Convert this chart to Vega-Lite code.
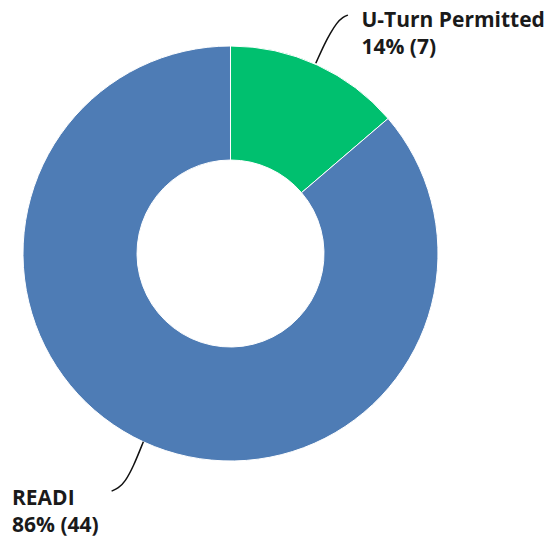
{
  "$schema": "https://vega.github.io/schema/vega-lite/v6.json",
  "width": 553,
  "height": 546,
  "padding": 0,
  "autosize": {"type": "fit", "contains": "padding"},
  "config": {"view": {"stroke": null}},
  "datasets": {
    "slices": [
      {"category": "U-Turn Permitted", "count": 7, "order": 1},
      {"category": "READI", "count": 44, "order": 2}
    ],
    "leaders": [
      {"category": "U-Turn Permitted", "i": 0, "x": 0.411, "y": 0.917},
      {"category": "U-Turn Permitted", "i": 1, "x": 0.455, "y": 1.014},
      {"category": "U-Turn Permitted", "i": 2, "x": 0.48, "y": 1.06},
      {"category": "U-Turn Permitted", "i": 3, "x": 0.512, "y": 1.112},
      {"category": "U-Turn Permitted", "i": 4, "x": 0.542, "y": 1.14},
      {"category": "U-Turn Permitted", "i": 5, "x": 0.566, "y": 1.149},
      {"category": "READI", "i": 0, "x": -0.42, "y": -0.907},
      {"category": "READI", "i": 1, "x": -0.468, "y": -1.027},
      {"category": "READI", "i": 2, "x": -0.508, "y": -1.1},
      {"category": "READI", "i": 3, "x": -0.541, "y": -1.132},
      {"category": "READI", "i": 4, "x": -0.573, "y": -1.145}
    ],
    "labels": [
      {"category": "U-Turn Permitted", "text": "U-Turn Permitted\n14% (7)", "x": 0.631, "y": 1.093},
      {"category": "READI", "text": "READI\n86% (44)", "x": -1.053, "y": -1.212}
    ]
  },
  "layer": [
    {
      "data": {"name": "slices"},
      "mark": {"type": "arc", "outerRadius": 207.5, "innerRadius": 93.5, "stroke": "white", "strokeWidth": 1},
      "encoding": {
        "theta": {"field": "count", "type": "quantitative", "stack": true},
        "order": {"field": "order", "type": "quantitative"},
        "color": {
          "field": "category",
          "type": "nominal",
          "scale": {"domain": ["U-Turn Permitted", "READI"], "range": ["#00C06F", "#4E7CB5"]},
          "legend": null
        },
        "x": {"datum": 0, "type": "quantitative", "scale": {"domain": [-1.1108, 1.5542], "nice": false, "zero": false}, "axis": null},
        "y": {"datum": 0, "type": "quantitative", "scale": {"domain": [-1.4096, 1.2217], "nice": false, "zero": false}, "axis": null}
      }
    },
    {
      "data": {"name": "leaders"},
      "mark": {"type": "line", "interpolate": "basis", "color": "#111111", "strokeWidth": 1.5},
      "encoding": {
        "x": {"field": "x", "type": "quantitative"},
        "y": {"field": "y", "type": "quantitative"},
        "detail": {"field": "category"},
        "order": {"field": "i", "type": "quantitative"}
      }
    },
    {
      "data": {"name": "labels"},
      "mark": {"type": "text", "align": "left", "baseline": "alphabetic", "font": "Open Sans", "fontSize": 21, "fontWeight": "bold", "lineBreak": "\n", "lineHeight": 27.5, "color": "#1a1a1a"},
      "encoding": {
        "x": {"field": "x", "type": "quantitative"},
        "y": {"field": "y", "type": "quantitative"},
        "text": {"field": "text"}
      }
    }
  ]
}
